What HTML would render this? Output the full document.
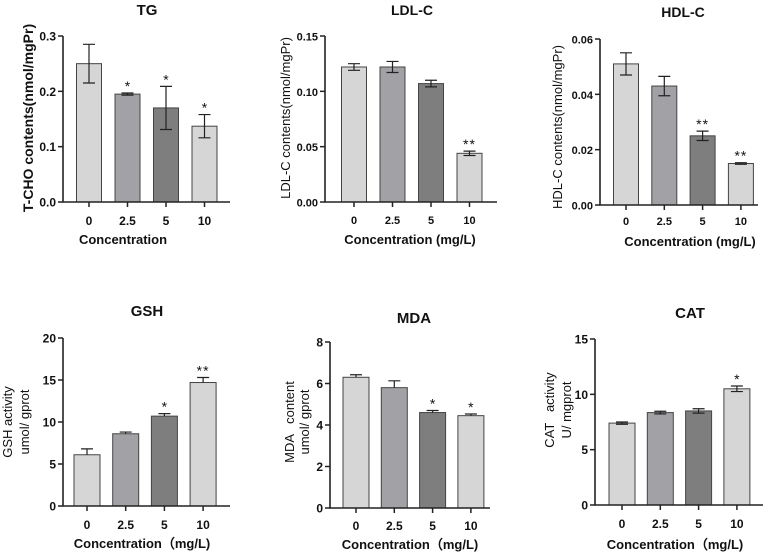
<!DOCTYPE html>
<html><head><meta charset="utf-8"><style>
html,body{margin:0;padding:0;background:#fff;}
svg{display:block;}
text{font-family:"Liberation Sans",Arial,sans-serif;fill:#111;white-space:pre;}
</style></head><body>
<svg id="fig" width="770" height="555" viewBox="0 0 770 555" xmlns="http://www.w3.org/2000/svg" xml:space="preserve"></svg>
<script>
// Data arrays
const categories = ["0","2.5","5","10"];
const tgValues = [0.25,0.195,0.17,0.137];
const tgErrors = [0.035,0.002,0.039,0.021];
const tgStars = ["","*","*","*"];
const tgTicks = ["0.0","0.1","0.2","0.3"];
const ldlValues = [0.122,0.122,0.107,0.044];
const ldlErrors = [0.003,0.005,0.003,0.002];
const ldlStars = ["","","","**"];
const ldlTicks = ["0.00","0.05","0.10","0.15"];
const hdlValues = [0.051,0.043,0.025,0.015];
const hdlErrors = [0.004,0.0035,0.0017,0.0003];
const hdlStars = ["","","**","**"];
const hdlTicks = ["0.00","0.02","0.04","0.06"];
const gshValues = [6.1,8.6,10.7,14.7];
const gshErrors = [0.7,0.2,0.3,0.6];
const gshStars = ["","","*","**"];
const gshTicks = ["0","5","10","15","20"];
const mdaValues = [6.3,5.8,4.6,4.45];
const mdaErrors = [0.12,0.33,0.1,0.08];
const mdaStars = ["","","*","*"];
const mdaTicks = ["0","2","4","6","8"];
const catValues = [7.4,8.35,8.5,10.5];
const catErrors = [0.1,0.12,0.2,0.25];
const catStars = ["","","","*"];
const catTicks = ["0","5","10","15"];

const fills = ["#d6d6d6","#a2a2a6","#7e7e7e","#d6d6d6"];
const NS = "http://www.w3.org/2000/svg";
const svg = document.getElementById("fig");
function mk(tag, attrs, parent){
  const e = document.createElementNS(NS, tag);
  for (const k in attrs) e.setAttribute(k, attrs[k]);
  (parent||svg).appendChild(e);
  return e;
}
function panel(p){
  const g = mk("g", {});
  
  
  const max = parseFloat(p.ticks[p.ticks.length-1]);
  const y = v => p.y0 - (v/max)*(p.y0-p.yTop);
  const x = i => p.cx0 + i*p.step;
  const t = mk("text", {x:p.titleX, y:p.titleY, "text-anchor":"middle", "font-size":p.titleSize||15, "font-weight":"bold"}, g);
  t.textContent = p.title;
  
  
  p.values.forEach((v,i)=>{
    const r = mk("rect", {x:x(i)-p.bw/2, y:y(v), width:p.bw, height:p.y0-y(v), fill:fills[i], stroke:"#444", "stroke-width":1}, g);
    
    
    const e = p.errors[i];
    const lo = p.upOnly ? v : v - e;
    const eb = mk("path", {d:`M${x(i)},${y(lo)}V${y(v+e)}M${x(i)-6},${y(v+e)}H${x(i)+6}` + (p.upOnly?"":`M${x(i)-6},${y(v-e)}H${x(i)+6}`), stroke:"#222", "stroke-width":1.2, fill:"none"}, g);
    
    
    if (p.stars[i]) {
      const s = mk("text", {x:x(i), y:y(v+e)-2, "text-anchor":"middle", "font-size":14, "letter-spacing":p.stars[i].length>1?"1":"0"}, g);
      s.textContent = p.stars[i];
      
      
    }
    mk("line", {x1:x(i), x2:x(i), y1:p.y0, y2:p.y0+5, stroke:"#222", "stroke-width":1.5}, g);
    const tl = mk("text", {x:x(i), y:p.xTickY, "text-anchor":"middle", "font-size":p.tickSize||12, "font-weight":"bold"}, g);
    tl.textContent = categories[i];
    
    
  });
  const ax = mk("path", {d:`M${p.ax},${p.yTop}V${p.y0}H${p.axEnd}`, stroke:"#222", "stroke-width":1.6, fill:"none"}, g);
  
  
  p.ticks.forEach(tv=>{
    const v = parseFloat(tv);
    mk("line", {x1:p.ax-5, x2:p.ax, y1:y(v), y2:y(v), stroke:"#222", "stroke-width":1.5}, g);
    const tl = mk("text", {x:p.ax-7, y:y(v)+4.5, "text-anchor":"end", "font-size":p.tickSize||12, "font-weight":"bold"}, g);
    tl.textContent = tv;
    
    
  });
  const xl = mk("text", {x:p.xlX, y:p.xlY, "text-anchor":"middle", "font-size":13, "font-weight":"bold"}, g);
  xl.textContent = p.xlabel;
  
  
  p.ylabel.forEach((line, j)=>{
    const yl = mk("text", {x:0, y:0, transform:`translate(${p.ylX[j]},${p.ylY}) rotate(-90)`, "text-anchor":"middle", "font-size":p.ylSize||14, "font-weight":p.ylBold?"bold":"normal"}, g);
    yl.textContent = line;
    
    
  });
}
panel({name:"tg", title:"TG", titleX:147, titleY:15, values:tgValues, errors:tgErrors, stars:tgStars, ticks:tgTicks,
  ax:63, axEnd:230, yTop:36, y0:202, cx0:89, step:38.5, bw:25, xTickY:225, xlabel:"Concentration", xlX:123, xlY:244,
  ylabel:["T-CHO contents(nmol/mgPr)"], ylX:[33], ylY:118, ylBold:true});
panel({name:"ldl-c", title:"LDL-C", titleX:412, titleY:15, titleSize:14, values:ldlValues, errors:ldlErrors, stars:ldlStars, ticks:ldlTicks,
  ax:325, axEnd:497, yTop:36, y0:202, cx0:354, step:38.5, bw:25, xTickY:224, tickSize:11, xlabel:"Concentration (mg/L)", xlX:410, xlY:244,
  ylabel:["LDL-C contents(nmol/mgPr)"], ylX:[290], ylY:118, ylSize:13});
panel({name:"hdl-c", title:"HDL-C", titleX:683, titleY:17, titleSize:14, values:hdlValues, errors:hdlErrors, stars:hdlStars, ticks:hdlTicks,
  ax:600, axEnd:758, yTop:39, y0:205, cx0:626, step:38.3, bw:25, xTickY:225, tickSize:11, xlabel:"Concentration (mg/L)", xlX:690, xlY:246,
  ylabel:["HDL-C contents(nmol/mgPr)"], ylX:[562], ylY:127, ylSize:13});
panel({name:"gsh", title:"GSH", titleX:147, titleY:316, values:gshValues, errors:gshErrors, stars:gshStars, ticks:gshTicks, upOnly:true,
  ax:63, axEnd:230, yTop:338, y0:506, cx0:87, step:38.7, bw:26, xTickY:529, xlabel:"Concentration（mg/L)", xlX:142, xlY:548,
  ylabel:["GSH activity","umol/ gprot"], ylX:[12,29], ylY:422, ylSize:13});
panel({name:"mda", title:"MDA", titleX:414, titleY:323, values:mdaValues, errors:mdaErrors, stars:mdaStars, ticks:mdaTicks, upOnly:true,
  ax:330, axEnd:490, yTop:342, y0:508, cx0:356, step:38.3, bw:26, xTickY:530, xlabel:"Concentration（mg/L)", xlX:410, xlY:549,
  ylabel:["MDA   content","umol/ gprot"], ylX:[294,309], ylY:422, ylSize:13});
panel({name:"cat", title:"CAT", titleX:690, titleY:318, values:catValues, errors:catErrors, stars:catStars, ticks:catTicks,
  ax:595, axEnd:763, yTop:339, y0:505, cx0:622, step:38.3, bw:26, xTickY:528, xlabel:"Concentration（mg/L)", xlX:675, xlY:549,
  ylabel:["CAT   activity","U/ mgprot"], ylX:[554,571], ylY:410, ylSize:13});
</script>
</body></html>
